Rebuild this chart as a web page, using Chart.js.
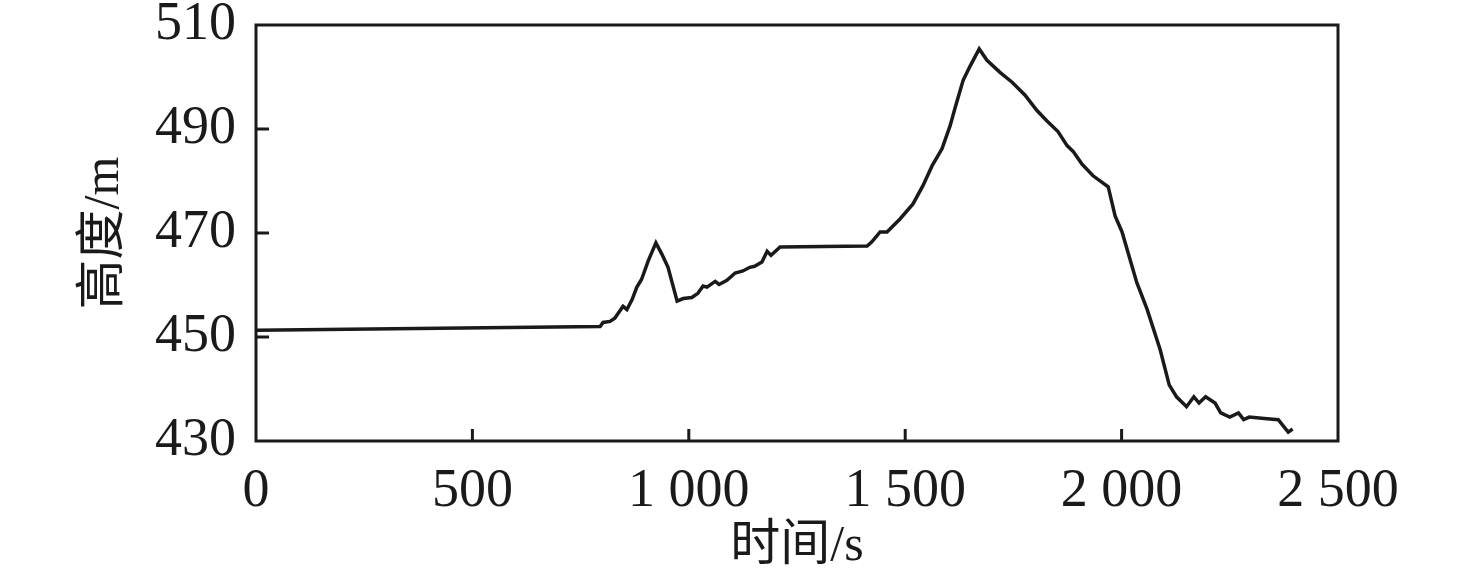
<!DOCTYPE html>
<html>
<head>
<meta charset="utf-8">
<script src="https://cdn.jsdelivr.net/npm/chart.js@4/dist/chart.umd.min.js"></script>
<style>
  html, body { margin: 0; padding: 0; background: #fff; }
  #wrap { width: 1476px; height: 587px; }
</style>
</head>
<body>
<div id="wrap"><canvas id="chart"></canvas></div>
<script>
// time (s) and altitude (m)
const times = [0, 795, 802, 818, 829, 848, 857, 869, 880, 891, 906, 924, 938, 952, 973,
  987, 1007, 1021, 1033, 1042, 1061, 1070, 1088, 1107, 1125, 1141, 1152, 1169, 1181, 1190,
  1211, 1412, 1423, 1442, 1458, 1488, 1518, 1541, 1562, 1585, 1604, 1615, 1634, 1650, 1671,
  1689, 1719, 1747, 1777, 1804, 1827, 1853, 1874, 1888, 1908, 1934, 1969, 1985, 2001, 2035,
  2059, 2089, 2110, 2127, 2150, 2167, 2179, 2194, 2216, 2229, 2250, 2270, 2282, 2295, 2336,
  2362, 2385, 2395];
const heights = [451.3, 452.0, 452.8, 453.0, 453.6, 455.9, 455.3, 457.2, 459.6, 461.1, 464.6, 468.1, 465.9, 463.4, 456.9,
  457.4, 457.6, 458.4, 459.8, 459.6, 460.7, 460.1, 460.9, 462.3, 462.7, 463.4, 463.6, 464.4, 466.5, 465.7,
  467.3, 467.5, 468.3, 470.2, 470.2, 472.7, 475.6, 479.1, 482.9, 486.2, 490.7, 494.0, 499.4, 502.1, 505.4,
  503.2, 500.9, 499.0, 496.5, 493.6, 491.6, 489.5, 486.8, 485.7, 483.3, 481.0, 478.9, 473.3, 470.2, 460.5,
  455.3, 447.6, 440.8, 438.5, 436.6, 438.5, 437.3, 438.5, 437.3, 435.4, 434.6, 435.4, 434.1, 434.6, 434.3,
  434.1, 431.7, 432.3];

const xTicks = [0, 500, 1000, 1500, 2000, 2500];
const yTicks = [430, 450, 470, 490, 510];
const xTitle = "时间/s";
const yTitle = "高度/m";

const serif = "'Liberation Serif', 'Noto Sans CJK SC', serif";
const ink = "#1a1a1a";

// frame around the plot and short inward tick marks
const framePlugin = {
  id: "frame",
  afterDraw(chart) {
    const { ctx, chartArea: a, scales } = chart;
    ctx.save();
    ctx.strokeStyle = ink;
    ctx.lineWidth = 3;
    ctx.strokeRect(a.left, a.top, a.right - a.left, a.bottom - a.top);
    ctx.beginPath();
    xTicks.slice(1, -1).forEach(v => {
      const px = scales.x.getPixelForValue(v);
      ctx.moveTo(px, a.bottom);
      ctx.lineTo(px, a.bottom - 12);
    });
    yTicks.slice(1, -1).forEach(v => {
      const py = scales.y.getPixelForValue(v);
      ctx.moveTo(a.left, py);
      ctx.lineTo(a.left + 13, py);
    });
    ctx.stroke();
    ctx.restore();
  }
};

new Chart(document.getElementById("chart"), {
  type: "line",
  data: {
    datasets: [{
      data: times.map((t, i) => ({ x: t, y: heights[i] })),
      borderColor: ink,
      borderWidth: 3.5,
      pointRadius: 0,
      tension: 0,
      fill: false
    }]
  },
  options: {
    responsive: true,
    maintainAspectRatio: false,
    animation: false,
    layout: { padding: { top: 25, right: 138, left: 0, bottom: 0 } },
    plugins: { legend: { display: false }, tooltip: { enabled: false } },
    scales: {
      x: {
        type: "linear",
        min: 0, max: 2500,
        afterBuildTicks: s => { s.ticks = xTicks.map(v => ({ value: v })); },
        afterFit: s => { s.height = 146; s.paddingLeft = 0; s.paddingRight = 0; },
        grid: { display: false },
        border: { display: false },
        ticks: {
          color: ink,
          padding: 10,
          maxRotation: 0,
          font: { family: serif, size: 54 },
          callback: v => String(v).replace(/\B(?=(\d{3})+(?!\d))/g, " ")
        },
        title: {
          display: true, text: xTitle, color: ink,
          font: { family: serif, size: 50 },
          padding: { top: 0, bottom: 10 }
        }
      },
      y: {
        min: 430, max: 510,
        afterBuildTicks: s => { s.ticks = yTicks.map(v => ({ value: v })); },
        afterFit: s => { s.width = 256; s.paddingTop = 0; s.paddingBottom = 0; },
        grid: { display: false },
        border: { display: false },
        ticks: {
          color: ink,
          padding: 12,
          font: { family: serif, size: 54 }
        },
        title: {
          display: true, text: yTitle, color: ink,
          font: { family: serif, size: 50 },
          padding: { top: 75, bottom: 0 }
        }
      }
    }
  },
  plugins: [framePlugin]
});
</script>
</body>
</html>
